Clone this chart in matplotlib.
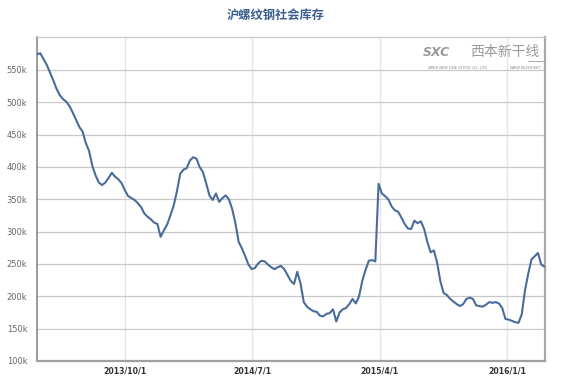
import matplotlib
matplotlib.use('Agg')
import matplotlib.pyplot as plt
import numpy as np
import pandas as pd

plt.rcParams['font.family'] = ['DejaVu Sans', 'Noto Sans CJK SC']

# weekly stock data (k tons)
start_date = '2013-03-25'
stock_k = [
    574, 576, 567, 558, 546, 534, 521, 511, 505, 501,
    494, 484, 473, 462, 455, 437, 425, 402, 387, 376,
    372, 376, 383, 391, 385, 381, 375, 364, 355, 352,
    349, 344, 338, 328, 323, 319, 314, 312, 292, 302,
    311, 325, 340, 362, 389, 396, 398, 410, 415, 413,
    400, 392, 375, 356, 349, 359, 346, 352, 356, 350,
    335, 313, 284, 274, 262, 249, 242, 244, 251, 255,
    254, 249, 245, 242, 245, 247, 242, 233, 224, 219,
    238, 220, 191, 184, 180, 177, 176, 170, 169, 173,
    174, 180, 161, 175, 180, 182, 188, 196, 189, 200,
    224, 241, 255, 256, 254, 374, 359, 355, 350, 339,
    333, 331, 322, 312, 305, 304, 317, 313, 316, 304,
    284, 268, 271, 252, 223, 205, 202, 196, 192, 188,
    185, 188, 196, 198, 196, 186, 185, 184, 187, 191,
    190, 191, 189, 182, 165, 164, 162, 160, 159, 172,
    209, 235, 257, 262, 267, 249, 246,
]
dates = pd.date_range(start_date, periods=len(stock_k), freq='7D')
values = np.array(stock_k) * 1000

x_ticks = ['2013-10-01', '2014-07-01', '2015-04-01', '2016-01-01']
x_tick_labels = ['2013/10/1', '2014/7/1', '2015/4/1', '2016/1/1']
y_ticks = [100000, 150000, 200000, 250000, 300000, 350000, 400000, 450000, 500000, 550000]
y_tick_labels = ['100k', '150k', '200k', '250k', '300k', '350k', '400k', '450k', '500k', '550k']

W, H = 579, 383
fig = plt.figure(figsize=(W / 100, H / 100), dpi=100, facecolor='white')
ax = fig.add_axes([37 / W, 1 - 361 / H, (544.5 - 37) / W, (361 - 37) / H])

ax.plot(dates, values, color='#4a6c9b', lw=1.5, solid_joinstyle='round',
        solid_capstyle='round', zorder=3)

ax.set_xlim(dates[0], dates[-1])
ax.set_ylim(100000, 601000)

ax.set_yticks(y_ticks)
ax.set_yticklabels(y_tick_labels, fontsize=6, color='#666666')
ax.set_xticks(pd.to_datetime(x_ticks))
ax.set_xticklabels(x_tick_labels, fontsize=5.6, color='#333333', fontweight='bold')
ax.tick_params(axis='both', length=0, pad=4)
ax.tick_params(axis='y', pad=7)

ax.grid(axis='y', color='#c8c8c8', lw=0.9, zorder=1)
ax.grid(axis='x', color='#e4e4e4', lw=0.9, zorder=1)

ax.spines['top'].set_color('#c8c8c8')
ax.spines['top'].set_linewidth(0.9)
ax.spines['right'].set_color('#a8a8a8')
ax.spines['right'].set_linewidth(1.6)
ax.spines['bottom'].set_color('#a0a0a0')
ax.spines['bottom'].set_linewidth(1.6)
ax.spines['left'].set_color('#8a8a8a')
ax.spines['left'].set_linewidth(1.2)

# title
fig.text(276 / W, 1 - 15 / H, '沪螺纹钢社会库存', ha='center', va='center',
         fontsize=8.8, fontweight='bold', color='#3d5f8f',
         family=['Noto Sans CJK SC', 'DejaVu Sans'])

# watermark logo
fig.text(436 / W, 1 - 52 / H, 'SXC', ha='center', va='center', fontsize=9,
         fontweight='bold', color='#9a9a9a', style='italic')
fig.text(505 / W, 1 - 52 / H, '西本新干线', ha='center', va='center', fontsize=10,
         color='#9a9a9a', style='italic', family=['Noto Sans CJK SC', 'DejaVu Sans'])
fig.add_artist(plt.Line2D([528 / W, 544 / W], [1 - 61 / H, 1 - 61 / H],
                          color='#9a9a9a', lw=0.6))
fig.text(458 / W, 1 - 68 / H, 'XIBEN NEW LINE STOCK CO., LTD.', ha='center', va='center',
         fontsize=2.6, color='#888888', style='italic')
fig.text(525 / W, 1 - 68 / H, 'WWW.96369.NET', ha='center', va='center',
         fontsize=2.6, color='#888888', style='italic')

plt.savefig('out.png', dpi=100, facecolor='white')
